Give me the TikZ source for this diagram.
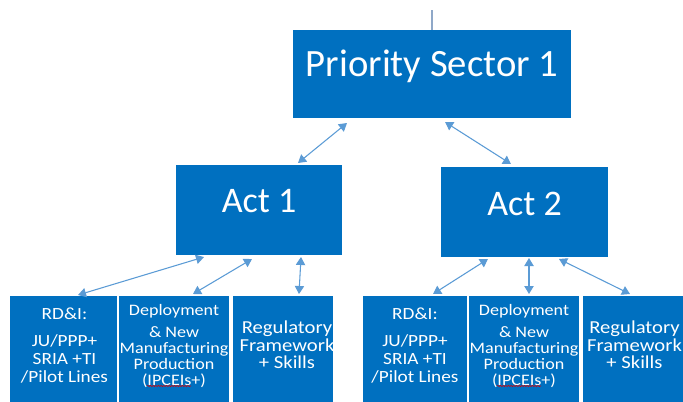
\documentclass[tikz,border=0pt]{standalone}
\usepackage{fontspec}
\setmainfont{Carlito}
\newfontfamily\widefont[FakeStretch=1.13]{Carlito}
\usetikzlibrary{calc,arrows.meta,decorations.pathmorphing}
\definecolor{boxblue}{HTML}{0070C0}
\definecolor{linkblue}{HTML}{5B9BD5}
\definecolor{stemgray}{HTML}{8FA8C8}

\begin{document}
\begin{tikzpicture}[x=0.75pt, y=-0.75pt,
  box/.style={fill=boxblue, inner sep=0pt, outer sep=0pt},
  boxtext/.style={text=white, inner sep=0pt, align=center},
  link/.style={draw=linkblue, line width=0.8pt,
    {Triangle[length=6pt,width=7pt]}-{Triangle[length=6pt,width=7pt]}},
]
\useasboundingbox (0,0) rectangle (683,401);

% top level
\node[box, minimum width=208.5pt, minimum height=66pt] (ps1) at (432,74) {};
\coordinate (stem) at (432,10);
\draw[stemgray, line width=0.8pt] (stem) -- (ps1.north);

% second level
\node[box, minimum width=124.5pt, minimum height=67.5pt] (act1) at (259,210) {};
\node[box, minimum width=125.25pt, minimum height=67.5pt] (act2) at (524.5,212) {};

% bottom row, runs off the lower edge
\node[box, minimum width=80.25pt, minimum height=81pt] (rd1) at (63.5,350) {};
\node[box, minimum width=82.5pt, minimum height=81pt] (dep1) at (174,350) {};
\node[box, minimum width=75pt, minimum height=81pt] (reg1) at (283,350) {};
\node[box, minimum width=78pt, minimum height=81pt] (rd2) at (415,350) {};
\node[box, minimum width=82.5pt, minimum height=81pt] (dep2) at (524,350) {};
\node[box, minimum width=77.25pt, minimum height=81pt] (reg2) at (634.5,350) {};

% labels
\node[boxtext, anchor=base, font=\fontsize{29}{35}\selectfont] (ps1text)
  at ($(ps1.north)+(0,46)$) {Priority Sector 1};
\node[boxtext, anchor=base, font=\fontsize{27}{32}\selectfont] (act1text)
  at ($(act1.north)+(0,47)$) {Act 1};
\node[boxtext, anchor=base, font=\fontsize{27}{32}\selectfont] (act2text)
  at ($(act2.north)+(0,48)$) {Act 2};

\node[boxtext, anchor=north, font=\widefont\fontsize{12.8}{13.5}\selectfont] (rd1text)
  at ($(rd1.north)+(1,12)$) {RD\&I:\\[6.5pt] JU/PPP+\\ SRIA +TI\\ /Pilot Lines};
\node[boxtext, anchor=north, font=\widefont\fontsize{12}{12}\selectfont] (dep1text)
  at ($(dep1.north)+(0,8.5)$) {Deployment\\[4.5pt] \&~New\\ Manufacturing\\ Production\\ (IPCEIs+)};
\node[boxtext, anchor=north, font=\widefont\fontsize{13.7}{13.3}\selectfont] (reg1text)
  at ($(reg1.north)+(4,24.5)$) {Regulatory\\ Framework\\ + Skills};

\node[boxtext, anchor=north, font=\widefont\fontsize{12.8}{13.5}\selectfont] (rd2text)
  at ($(rd2.north)+(0,12)$) {RD\&I:\\[6.5pt] JU/PPP+\\ SRIA +TI\\ /Pilot Lines};
\node[boxtext, anchor=north, font=\widefont\fontsize{12}{12}\selectfont] (dep2text)
  at ($(dep2.north)+(0,8.5)$) {Deployment\\[4.5pt] \&~New\\ Manufacturing\\ Production\\ (IPCEIs+)};
\node[boxtext, anchor=north, font=\widefont\fontsize{13.7}{13.3}\selectfont] (reg2text)
  at ($(reg2.north)+(0,24.5)$) {Regulatory\\ Framework\\ + Skills};

% spell-check squiggle under IPCEIs
\draw[red!85!black, line width=0.4pt,
  decorate, decoration={snake, amplitude=0.5pt, segment length=2pt}]
  ($(dep1.north west)+(28,90)$) -- ($(dep1.north west)+(72,90)$);
\draw[red!85!black, line width=0.4pt,
  decorate, decoration={snake, amplitude=0.5pt, segment length=2pt}]
  ($(dep2.north west)+(28,90)$) -- ($(dep2.north west)+(72,90)$);

% connectors
\draw[link] ($(ps1.south west)+(54,5)$) -- ($(act1.north west)+(122,-2)$);
\draw[link] ($(ps1.south west)+(152,4)$) -- ($(act2.north west)+(70,-3)$);

\draw[link] ($(act1.south west)+(28,2)$) -- ($(rd1.north west)+(68,-1)$);
\draw[link] ($(act1.south west)+(76,4)$) -- ($(dep1.north west)+(74,-2)$);
\draw[link] ($(act1.south west)+(125,2)$) -- ($(reg1.north west)+(66,-2)$);

\draw[link] ($(act2.south west)+(47,2)$) -- ($(rd2.north west)+(70,-2)$);
\draw[link] ($(act2.south west)+(88,1)$) -- ($(dep2.north west)+(60,-2)$);
\draw[link] ($(act2.south west)+(118,2)$) -- ($(reg2.north west)+(47,-2)$);
\end{tikzpicture}
\end{document}
